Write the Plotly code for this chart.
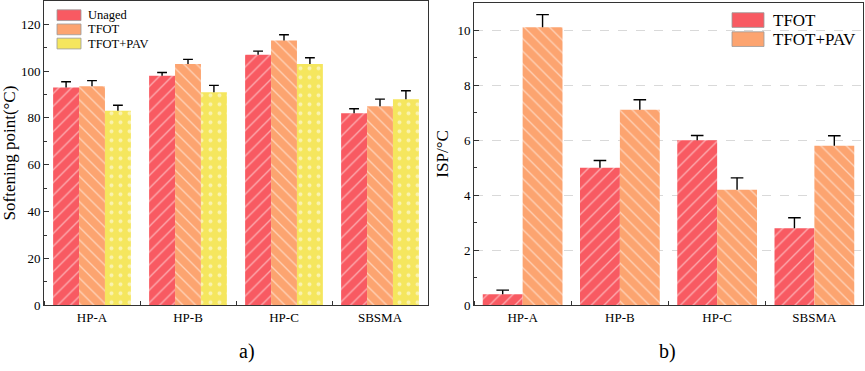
import numpy as np
import plotly.graph_objects as go

categories = ["HP-A", "HP-B", "HP-C", "SBSMA"]

# Panel a) softening point (°C)
sp_unaged = [93.0, 98.0, 107.0, 82.0]
sp_unaged_err = [2.4, 1.4, 1.5, 1.9]
sp_tfot = [93.5, 103.0, 113.0, 85.0]
sp_tfot_err = [2.4, 2.0, 2.5, 3.0]
sp_pav = [83.0, 91.0, 103.0, 88.0]
sp_pav_err = [2.4, 2.9, 2.7, 3.6]

# Panel b) ISP (°C)
isp_tfot = [0.4, 5.0, 6.0, 2.8]
isp_tfot_err = [0.15, 0.26, 0.17, 0.38]
isp_pav = [10.1, 7.1, 4.2, 5.8]
isp_pav_err = [0.46, 0.37, 0.43, 0.36]

RED = "#F85A62"
ORANGE = "#FCA470"
YELLOW = "#F5E65E"
FONT = "Liberation Serif"
W, H = 865, 371

fig = go.Figure()
idx = np.arange(len(categories))


def add_series(vals, errs, color, shape, name, offset, width, xa, ya, cap):
    x = idx + offset
    fig.add_trace(go.Bar(
        x=x, y=vals, width=width, name=name, showlegend=False,
        xaxis=xa, yaxis=ya,
        marker=dict(color=color, line=dict(width=0),
                    pattern=dict(shape=shape, fgcolor="white", bgcolor=color,
                                 size=9, solidity=0.15, fillmode="overlay")),
        error_y=dict(type="data", array=errs, arrayminus=[0] * len(errs),
                     symmetric=False, width=0, thickness=1.4, color="black"),
    ))
    fig.add_trace(go.Scatter(
        x=x, y=np.array(vals) + np.array(errs), mode="markers",
        xaxis=xa, yaxis=ya, showlegend=False, hoverinfo="skip",
        marker=dict(symbol="line-ew", size=cap, line=dict(width=1.4, color="black")),
    ))


wa = 0.27
add_series(sp_unaged, sp_unaged_err, RED, "/", "Unaged", -wa, wa, "x", "y", 7)
add_series(sp_tfot, sp_tfot_err, ORANGE, "\\", "TFOT", 0, wa, "x", "y", 7)
add_series(sp_pav, sp_pav_err, YELLOW, ".", "TFOT+PAV", wa, wa, "x", "y", 7)

wb = 0.41
add_series(isp_tfot, isp_tfot_err, RED, "/", "TFOT", -wb / 2, wb, "x2", "y2", 9)
add_series(isp_pav, isp_pav_err, ORANGE, "\\", "TFOT+PAV", wb / 2, wb, "x2", "y2", 9)

# ---- legends (drawn as swatches + labels in paper coordinates) ----
legend_a = [("Unaged", RED), ("TFOT", ORANGE), ("TFOT+PAV", YELLOW)]
legend_b = [("TFOT", RED), ("TFOT+PAV", ORANGE)]

shapes, annotations = [], []


def add_legend(items, x0, x1, y_first, dy, sh, text_x, fsize):
    for i, (label, color) in enumerate(items):
        yc = y_first + i * dy
        shapes.append(dict(type="rect", xref="paper", yref="paper",
                           x0=x0 / W, x1=x1 / W,
                           y0=(H - yc - sh / 2) / H, y1=(H - yc + sh / 2) / H,
                           fillcolor=color, line=dict(color="#9a9a9a", width=0.8)))
        annotations.append(dict(text=label, x=text_x / W, y=(H - yc) / H,
                                xref="paper", yref="paper", xanchor="left",
                                yanchor="middle", showarrow=False,
                                font=dict(family=FONT, size=fsize, color="black")))


add_legend(legend_a, 57, 81, 15.5, 14.5, 11, 86, 12.5)
add_legend(legend_b, 732, 764, 20.5, 19.5, 15, 771, 17)

annotations += [
    dict(text="a)", x=247 / W, y=(H - 359) / H, xref="paper", yref="paper",
         xanchor="center", yanchor="middle",
         showarrow=False, font=dict(family=FONT, size=20)),
    dict(text="b)", x=667 / W, y=(H - 359) / H, xref="paper", yref="paper",
         xanchor="center", yanchor="middle",
         showarrow=False, font=dict(family=FONT, size=20)),
]

axis_common = dict(showline=True, linecolor="#333333", linewidth=1, mirror=True,
                   tickfont=dict(family=FONT, size=13, color="black"), zeroline=False)

xcommon = dict(axis_common, range=[-0.5, 3.5], tickmode="array", tickvals=list(idx),
               ticktext=categories, ticks="", showgrid=False,
               minor=dict(tickmode="linear", tick0=0.5, dtick=1, ticks="inside",
                          ticklen=4, tickcolor="#333333", showgrid=False))

fig.update_layout(
    width=W, height=H, autosize=False,
    margin=dict(l=0, r=0, t=0, b=0),
    paper_bgcolor="white", plot_bgcolor="white",
    font=dict(family=FONT, color="black"),
    barmode="overlay",
    showlegend=False,
    xaxis=dict(xcommon, domain=[44 / W, 428 / W], anchor="y"),
    yaxis=dict(axis_common, domain=[(H - 312) / H, (H - 0.8) / H], range=[0, 130], anchor="x",
               tickmode="linear", tick0=0, dtick=20, ticks="inside", ticklen=5,
               tickcolor="#333333", showgrid=False,
               minor=dict(dtick=10, ticks="inside", ticklen=3, tickcolor="#333333"),
               title=dict(text="Softening point(°C)", font=dict(family=FONT, size=17), standoff=0)),
    xaxis2=dict(xcommon, domain=[474 / W, 863 / W], anchor="y2"),
    yaxis2=dict(axis_common, domain=[(H - 312) / H, (H - 2.6) / H], range=[0, 11], anchor="x2",
                tickmode="linear", tick0=0, dtick=2, ticks="inside", ticklen=5,
                tickcolor="#333333", showgrid=True, gridcolor="#D9D9D9",
                griddash="dash", gridwidth=1,
                minor=dict(dtick=1, ticks="inside", ticklen=3, tickcolor="#333333", showgrid=False),
                title=dict(text="ISP/°C", font=dict(family=FONT, size=17), standoff=4)),
    shapes=shapes,
    annotations=annotations,
)

fig.write_html("out.html",
               config={"displayModeBar": False, "responsive": False},
               default_width="865px", default_height="371px",
               post_script="document.body.style.margin='0';document.body.style.overflow='hidden';")
